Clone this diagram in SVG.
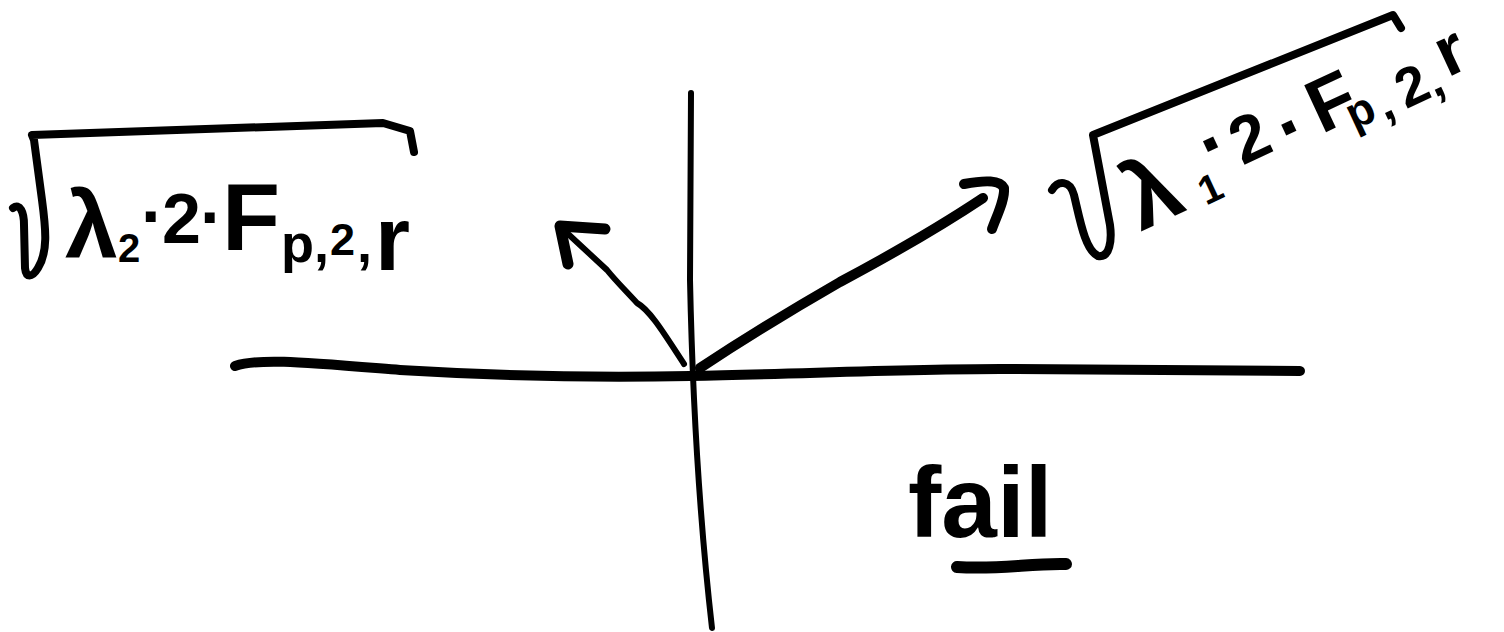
<svg xmlns="http://www.w3.org/2000/svg" width="1504" height="632" viewBox="0 0 1504 632">
  <style>
    .ink { fill: none; stroke: #000; stroke-linecap: round; stroke-linejoin: round; }
    .t { font-family: "Liberation Sans", Arial, sans-serif; font-weight: bold; fill: #000; }
  </style>
  <rect width="1504" height="632" fill="#fff"/>

  <g id="axes">
    <path class="ink" stroke-width="10" d="M235,366 C260,358 300,362 400,370 C500,376 600,378 690,376 C800,374 900,369 1000,369 L1300,371"/>
    <path class="ink" stroke-width="6" d="M691,93 L690,280 Q694,470 712,628"/>
  </g>

  <g id="connectors">
    <g id="arrow-left">
      <path class="ink" stroke-width="6" d="M684,364 C665,335 650,310 637,303 C625,290 615,280 607,270 L566,232"/>
      <path class="ink" stroke-width="11" d="M605,229 L560,226 L568,264"/>
    </g>
    <g id="arrow-right">
      <path class="ink" stroke-width="10" d="M700,368 C750,335 800,305 840,282 C900,250 950,220 983,198"/>
      <path class="ink" stroke-width="10" d="M964,184 C985,180 1000,180 1004,188 C1005,200 997,215 992,229"/>
    </g>
  </g>

  <g id="label-left">
    <path class="ink" stroke-width="8" d="M13,208 C20,203 24,212 24,225 L25,268 C26,278 32,278 38,268 C48,252 46,230 42,200 L34,140 L32,135 L383,123 L410,131 L414,152"/>
    <text class="t">
      <tspan x="65" y="258" font-size="95">λ</tspan><tspan x="118" y="262" font-size="40">2</tspan><tspan x="141" y="240" font-size="70">·</tspan><tspan x="162" y="243" font-size="70">2</tspan><tspan x="200" y="241" font-size="70">·</tspan><tspan x="222" y="250" font-size="95">F</tspan><tspan x="281" y="262" font-size="54">p</tspan><tspan x="314" y="262" font-size="54">,</tspan><tspan x="330" y="255" font-size="45">2</tspan><tspan x="357" y="262" font-size="54">,</tspan><tspan x="375" y="270" font-size="90">r</tspan>
    </text>
  </g>

  <g id="label-right">
    <path class="ink" stroke-width="8" d="M1052,190 C1058,180 1070,180 1074,195 C1080,220 1085,250 1098,256 C1110,258 1112,240 1110,225 L1093,135 L1393,15 L1401,28"/>
    <g transform="rotate(-25 1140 230)">
      <text class="t">
        <tspan x="1140" y="232" font-size="95">λ</tspan><tspan x="1210" y="236" font-size="40">1</tspan><tspan x="1229" y="209" font-size="80">·</tspan><tspan x="1260" y="215" font-size="66">2</tspan><tspan x="1307" y="227" font-size="80">·</tspan><tspan x="1345" y="220" font-size="75">F</tspan><tspan x="1376" y="230" font-size="45">p</tspan><tspan x="1408" y="235" font-size="50">,</tspan><tspan x="1432" y="233" font-size="55">2</tspan><tspan x="1463" y="235" font-size="50">,</tspan><tspan x="1483" y="222" font-size="70">r</tspan>
      </text>
    </g>
  </g>

  <g id="label-fail">
    <text class="t" x="908" y="537" font-size="100">fail</text>
    <path class="ink" stroke-width="12" d="M957,567 C1000,570 1030,563 1066,564"/>
  </g>
</svg>
